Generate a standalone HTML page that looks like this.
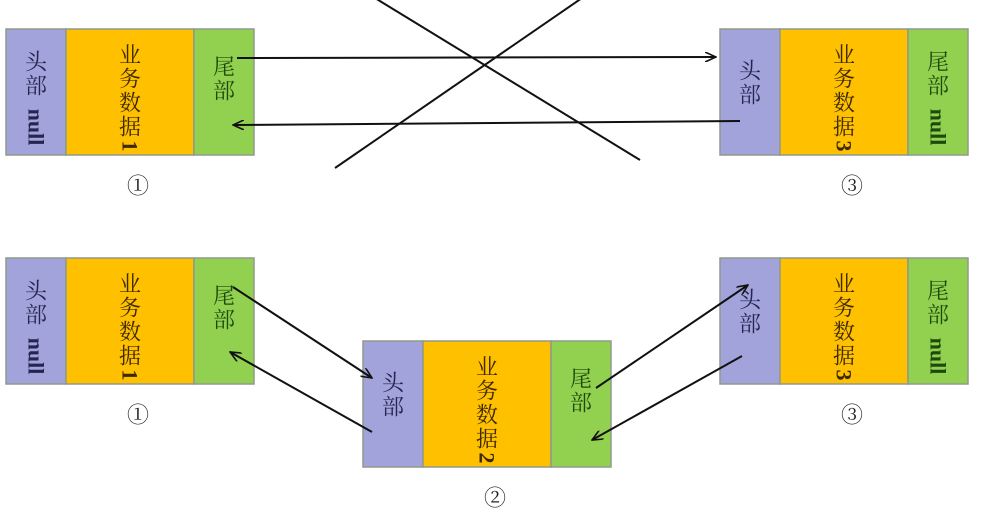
<!DOCTYPE html>
<html><head><meta charset="utf-8">
<style>
html,body{margin:0;padding:0;background:#fff;}
svg{display:block;}
text{font-family:"Liberation Serif","Noto Serif CJK SC",serif;font-size:22px;}
</style></head>
<body>
<svg id="d" width="1000" height="517" viewBox="0 0 1000 517">
<defs>
<marker id="ah" markerWidth="12" markerHeight="10" refX="11" refY="5" orient="auto" markerUnits="userSpaceOnUse">
<path d="M0,0 L11,5 L0,10" fill="none" stroke="#111" stroke-width="1.6"/>
</marker>
</defs>
</svg>
<script>
const svg=document.getElementById('d');
const NS='http://www.w3.org/2000/svg';
function mk(tag,attrs,parent){const e=document.createElementNS(NS,tag);for(const k in attrs)e.setAttribute(k,attrs[k]);(parent||svg).appendChild(e);return e;}
function txt(s,x,y,fill,g,rot){const t=mk('text',{x:x,y:y,fill:fill,'text-anchor':'middle','dominant-baseline':'central'},g);
if(rot){t.setAttribute('transform','rotate(90 '+x+' '+y+')');t.setAttribute('font-weight','bold');t.setAttribute('font-size','24');}
t.textContent=s;return t;}
function block(x,y,num,headNull,tailNull,name){
 const g=mk('g',{});
 
 
 const h=mk('rect',{x:x,y:y,width:60,height:126,fill:'#a3a3dc',stroke:'#8f9a8a','stroke-width':1.5},g);
 
 
 const b=mk('rect',{x:x+60,y:y,width:128,height:126,fill:'#ffc000',stroke:'#8f9a8a','stroke-width':1.5},g);
 
 
 const t=mk('rect',{x:x+188,y:y,width:60,height:126,fill:'#92d050',stroke:'#8f9a8a','stroke-width':1.5},g);
 
 
 const hc=x+30,bc=x+124,tc=x+218;
 const hy=headNull?y+33:y+42;
 txt('头',hc,hy,'#25254f',g);txt('部',hc,hy+24,'#25254f',g);
 if(headNull) txt('null',hc,y+98,'#25254f',g,true);
 txt('业',bc,y+26,'#3d2a00',g);txt('务',bc,y+50,'#3d2a00',g);txt('数',bc,y+74,'#3d2a00',g);txt('据',bc,y+98,'#3d2a00',g);
 txt(String(num),bc,y+117,'#3d2a00',g,true);
 const ty=tailNull?y+33:y+38;
 txt('尾',tc,ty,'#1d4a0c',g);txt('部',tc,ty+24,'#1d4a0c',g);
 if(tailNull) txt('null',tc,y+98,'#1d4a0c',g,true);
 const circ=['①','②','③'][num-1];
 const c=txt(circ,x+132,y+157,'#222',g);
 
 
 c.setAttribute('font-size','28');
}
block(6,29,1,true,false,'top-node-1');
block(720,29,3,false,true,'top-node-3');
block(6,258,1,true,false,'bottom-node-1');
block(363,341,2,false,false,'node-2');
block(720,258,3,false,true,'bottom-node-3');
function line(x1,y1,x2,y2,arrow,name){const l=mk('line',{x1:x1,y1:y1,x2:x2,y2:y2,stroke:'#111','stroke-width':2});
 if(arrow)l.setAttribute('marker-end','url(#ah)');
 
 }
line(237,58,716,57,true,'arrow-1-to-3');
line(740,121,233,125,true,'arrow-3-to-1');
line(375,-2,640,160,false,'cross-line-a');
line(582,-2,335,168,false,'cross-line-b');
line(233,287,372,378,true,'arrow-1-to-2');
line(372,432,230,352,true,'arrow-2-to-1');
line(596,388,748,285,true,'arrow-2-to-3');
line(742,356,592,440,true,'arrow-3-to-2');
</script>
</body></html>
